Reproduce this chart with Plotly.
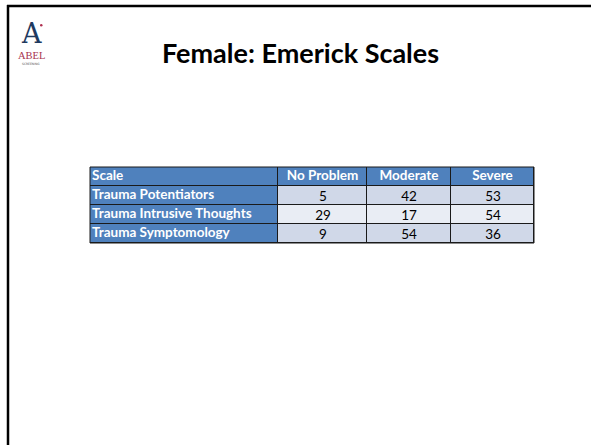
import plotly.graph_objects as go

W, H = 591, 445

title = "Female: Emerick Scales"
header_labels = ["Scale", "No Problem", "Moderate", "Severe"]
scales = ["Trauma Potentiators", "Trauma Intrusive Thoughts", "Trauma Symptomology"]
no_problem = [5, 29, 9]
moderate = [42, 17, 54]
severe = [53, 54, 36]

# style / layout constants
BLUE = "#4F81BD"
ROW_A = "#D0D8E8"
ROW_B = "#E9EDF4"
LINE = "#1a1a1a"
FONT = "Lato"
COL_EDGES = [0, 188, 277, 361, 444]   # column boundaries (px inside table)
TEXT_PAD = 2
TABLE_L, TABLE_R, TABLE_T, TABLE_B = 90, 534, 167, 243


def px(x):
    return x / W


def py(y):
    return 1 - y / H


row_names = [header_labels[0]] + scales
value_cols = [no_problem, moderate, severe]
col_mids = [(COL_EDGES[i] + COL_EDGES[i + 1]) / 2 for i in range(len(COL_EDGES) - 1)]

# colour codes: 0 = blue, 1 = light row A, 2 = light row B
z = [[0, 0, 0, 0]]
text = [["", "", "", ""]]
for i in range(len(scales)):
    code = 1 if i % 2 == 0 else 2
    z.append([0, code, code, code])
    text.append([""] + [str(col[i]) for col in value_cols])

colorscale = [
    [0.0, BLUE], [0.3333, BLUE],
    [0.3333, ROW_A], [0.6667, ROW_A],
    [0.6667, ROW_B], [1.0, ROW_B],
]

fig = go.Figure()
fig.add_trace(go.Heatmap(
    z=z, x=COL_EDGES, y=row_names,
    colorscale=colorscale, zmin=0, zmax=2, showscale=False,
    xgap=1, ygap=1,
    text=text, texttemplate="%{text}",
    textfont=dict(family=FONT, size=13.5, color="black"),
    hoverinfo="skip",
))
# header labels (centred, white bold)
fig.add_trace(go.Scatter(
    x=col_mids[1:], y=[header_labels[0]] * (len(header_labels) - 1),
    mode="text", text=["<b>%s</b>" % h for h in header_labels[1:]],
    textposition="middle center",
    textfont=dict(family=FONT, size=13.5, color="white"),
    hoverinfo="skip", cliponaxis=False,
))
# left-aligned first column labels
fig.add_trace(go.Scatter(
    x=[TEXT_PAD] * len(row_names), y=row_names,
    mode="text", text=["<b>%s</b>" % n for n in row_names],
    textposition="middle right",
    textfont=dict(family=FONT, size=13.5, color="white"),
    hoverinfo="skip", cliponaxis=False,
))

fig.update_xaxes(domain=[px(TABLE_L), px(TABLE_R)], range=[COL_EDGES[0], COL_EDGES[-1]],
                 visible=False, fixedrange=True)
fig.update_yaxes(domain=[py(TABLE_B), py(TABLE_T)], range=[len(row_names) - 0.5, -0.5],
                 categoryorder="array", categoryarray=row_names,
                 visible=False, fixedrange=True)

# table outline
fig.add_shape(type="rect", xref="paper", yref="paper",
              x0=px(TABLE_L), x1=px(TABLE_R), y0=py(TABLE_B), y1=py(TABLE_T),
              line=dict(color=LINE, width=1))

# Slide border (top and left only)
fig.add_shape(type="line", xref="paper", yref="paper",
              x0=px(7), x1=1.01, y0=py(6), y1=py(6),
              line=dict(color="black", width=2.5))
fig.add_shape(type="line", xref="paper", yref="paper",
              x0=px(8), x1=px(8), y0=py(5), y1=-0.01,
              line=dict(color="black", width=2.5))

# Title
fig.add_annotation(text="<b>%s</b>" % title, xref="paper", yref="paper",
                   x=px(300), y=py(52), showarrow=False,
                   xanchor="center", yanchor="middle",
                   font=dict(family=FONT, size=27, color="black"))

# Logo
fig.add_annotation(text="A", xref="paper", yref="paper",
                   x=px(31), y=py(34), showarrow=False,
                   xanchor="center", yanchor="middle",
                   font=dict(family="DejaVu Serif", size=27, color="#1F3A5F"))
fig.add_shape(type="circle", xref="paper", yref="paper",
              x0=px(40), x1=px(42.5), y0=py(26.5), y1=py(24),
              fillcolor="#B03050", line=dict(width=0))
fig.add_annotation(text="ABEL", xref="paper", yref="paper",
                   x=px(31), y=py(56), showarrow=False,
                   xanchor="center", yanchor="middle",
                   font=dict(family="Liberation Serif", size=10.5, color="#A8334E"))
fig.add_annotation(text="SCREENING", xref="paper", yref="paper",
                   x=px(31), y=py(64), showarrow=False,
                   xanchor="center", yanchor="middle",
                   font=dict(family="DejaVu Sans", size=3, color="#555555"))

fig.update_layout(
    width=W, height=H,
    margin=dict(l=0, r=0, t=0, b=0),
    paper_bgcolor="white",
    plot_bgcolor=LINE,
    showlegend=False,
)

fig.write_html("out.html", config={"displayModeBar": False},
               post_script="document.body.style.margin='0';")
